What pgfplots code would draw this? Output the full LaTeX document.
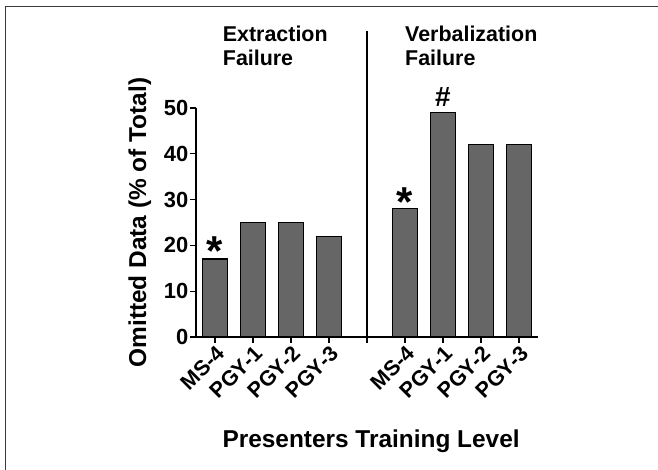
\documentclass[border=0pt]{standalone}
\usepackage{fontspec}
\setmainfont{Liberation Sans}
\usepackage{pgfplots}
\pgfplotsset{compat=1.18}
\definecolor{barfill}{HTML}{666666}
\definecolor{frameclr}{HTML}{3A3A3A}
\begin{document}
\begin{tikzpicture}
\useasboundingbox (-196bp,-133bp) rectangle (462bp,337bp);
\draw[frameclr, line width=1.5bp] (-190.5bp,-140bp) -- (-190.5bp,330.5bp) -- (470bp,330.5bp);
\begin{axis}[
  at={(0bp,0bp)}, anchor=south west,
  scale only axis, width=342bp, height=229bp,
  xmin=-0.5, xmax=8.5, ymin=0, ymax=50,
  axis x line=bottom, axis y line=left,
  axis line style={line width=1.3bp, -},
  ytick={0,10,20,30,40,50},
  xtick={0,1,2,3,4,5,6,7,8},
  xticklabels={MS-4,PGY-1,PGY-2,PGY-3,{},MS-4,PGY-1,PGY-2,PGY-3},
  tick align=outside, major tick length=6bp,
  every tick/.style={black, line width=1.3bp},
  /pgf/number format/assume math mode=true,
  yticklabel style={font=\fontsize{22}{26}\selectfont\bfseries, inner sep=1.5bp},
  xticklabel style={font=\fontsize{21.5}{24}\selectfont\bfseries, rotate=45, anchor=north east, inner sep=1bp},
  ylabel={Omitted Data (\% of Total)},
  ylabel style={font=\fontsize{24.5}{28}\selectfont\bfseries, at={(axis description cs:-0.164,0.5)}, anchor=center},
  xlabel={Presenters Training Level},
  xlabel style={font=\fontsize{24.5}{28}\selectfont\bfseries, at={(axis description cs:0.512,0)}, anchor=base, yshift=-110bp},
  clip=false,
  ybar, bar width=25bp,
]
\addplot[fill=barfill, draw=black, line width=1.3bp] coordinates {
  (0,17) (1,25) (2,25) (3,22) (5,28) (6,49) (7,42) (8,42)
};
\draw[black, line width=1.6bp] (axis cs:4,0) -- (axis cs:4,66.8);
\node[anchor=base west, inner sep=0, font=\fontsize{21.5}{24}\selectfont\bfseries] at (axis cs:0.203,64.48) {Extraction};
\node[anchor=base west, inner sep=0, font=\fontsize{21.5}{24}\selectfont\bfseries] at (axis cs:0.203,59.24) {Failure};
\node[anchor=base west, inner sep=0, font=\fontsize{21.5}{24}\selectfont\bfseries] at (axis cs:5.0,64.48) {Verbalization};
\node[anchor=base west, inner sep=0, font=\fontsize{21.5}{24}\selectfont\bfseries] at (axis cs:5.0,59.24) {Failure};
\node[anchor=north, inner sep=0, font=\fontsize{42}{42}\selectfont\bfseries] at (axis cs:0,21.9) {*};
\node[anchor=north, inner sep=0, font=\fontsize{42}{42}\selectfont\bfseries] at (axis cs:5,32.6) {*};
\node[anchor=north, inner sep=0, font=\fontsize{28}{28}\selectfont\bfseries] at (axis cs:6,54.5) {\#};
\end{axis}
\end{tikzpicture}
\end{document}
